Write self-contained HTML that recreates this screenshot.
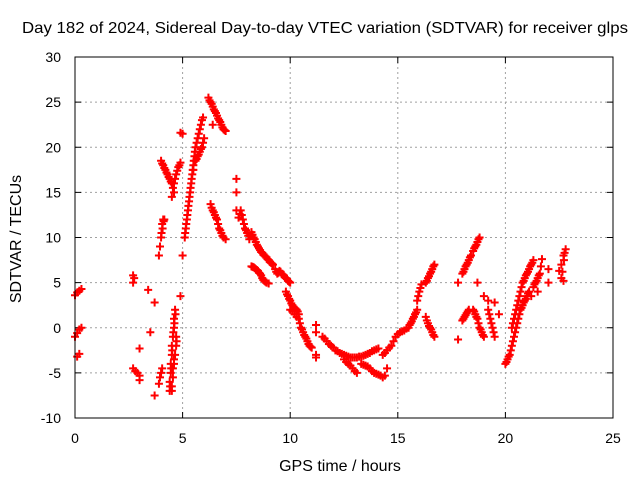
<!DOCTYPE html>
<html><head><meta charset="utf-8"><style>
html,body{margin:0;padding:0;background:#fff;}
svg{display:block;font-family:"Liberation Sans",sans-serif;}
</style></head><body>
<svg id="chart" width="640" height="480" viewBox="0 0 640 480">
<text x="22" y="33" textLength="606" lengthAdjust="spacingAndGlyphs" font-size="16" fill="#000">Day 182 of 2024, Sidereal Day-to-day VTEC variation (SDTVAR) for receiver glps</text>
<g id="grid"></g>
<g id="ticks"></g>
<g id="marks"></g>
<rect x="75" y="57" width="538" height="361" fill="none" stroke="#000" stroke-width="1"/>
<text x="340" y="471" text-anchor="middle" font-size="16">GPS time / hours</text>
<text transform="translate(21,239) rotate(-90)" text-anchor="middle" font-size="16">SDTVAR / TECUs</text>
</svg>
<script>
const xTicks=[0,5,10,15,20,25];
const yTicks=[-10,-5,0,5,10,15,20,25,30];
const hours=[0,0.1,0.2,0.3,0,0.1,0.2,0.3,0.1,0.2,2.7,2.75,2.7,2.7,2.8,2.9,3.0,3.0,3.0,3.4,3.5,3.7,3.7,3.9,3.95,4.0,4.05,
4.4,4.4,4.45,4.45,4.5,4.5,4.55,4.6,4.6,4.65,4.5,4.55,4.6,4.65,4.7,4.7,
3.9,3.95,4.0,4.05,4.1,4.15,
4.0,4.1,4.2,4.3,4.4,4.5,4.6,4.5,4.6,4.7,4.8,4.9,
4.9,5.0,4.9,5.0,
5.1,5.15,5.2,5.25,5.3,5.35,5.4,5.45,5.5,5.55,5.6,5.7,5.8,5.9,5.5,5.6,5.7,5.8,5.9,6.0,
6.2,6.3,6.4,6.5,6.6,6.7,6.8,6.9,7.0,6.4,
6.3,6.4,6.5,6.6,6.7,6.8,6.9,7.0,
7.5,7.5,7.5,7.6,7.7,7.8,7.9,8.0,8.1,
8.2,8.3,8.4,8.5,8.6,8.7,8.8,8.9,9.0,9.1,9.2,
8.2,8.3,8.4,8.5,8.6,8.7,8.8,8.9,9.0,
9.3,9.4,9.5,9.6,9.7,9.8,9.9,10.0,
9.8,9.9,10.0,10.1,10.2,10.3,10.4,
10.0,10.2,10.4,10.5,10.6,10.7,10.8,10.9,11.0,
11.2,11.2,11.2,11.2,
11.5,11.7,11.9,12.1,12.3,12.5,12.7,12.9,13.1,13.3,13.5,13.7,13.9,14.1,
12.5,12.7,12.9,13.1,13.3,13.5,13.7,13.9,14.1,14.3,14.5,
14.3,14.5,14.7,14.9,15.1,15.3,15.5,15.6,15.7,15.8,15.9,15.9,16.0,16.1,
16.3,16.4,16.5,16.6,16.7,16.3,16.4,16.5,16.6,16.7,
17.8,17.8,18.0,18.1,18.2,18.3,18.4,18.0,18.1,18.2,18.3,
18.5,18.6,18.7,18.8,18.5,18.6,18.7,18.8,18.9,19.0,18.7,19.0,19.2,19.2,19.3,19.4,19.5,19.7,19.5,
20.0,20.1,20.2,20.3,20.4,20.5,20.6,20.7,20.8,20.9,21.0,21.1,
20.3,20.4,20.5,20.6,20.7,20.8,20.9,21.0,21.1,21.2,21.3,
21.3,21.4,21.5,21.6,21.7,21.2,21.5,
22.0,22.0,22.5,22.6,22.6,22.7,22.8,22.7,
4.42,4.47,4.52,4.57,4.62,4.67,4.72,4.6,4.55,4.5,
4.02,4.07,4.12,
4.05,4.15,4.25,4.35,4.45,4.55,4.65,4.75,4.85,
5.12,5.17,5.22,5.27,5.32,5.37,5.42,5.47,5.52,5.57,5.65,5.75,5.85,5.95,5.65,5.75,5.85,5.95,
6.25,6.35,6.45,6.55,6.65,6.75,6.85,6.95,
6.35,6.45,6.55,6.65,6.75,6.85,
7.65,7.75,7.85,7.95,8.05,
8.25,8.35,8.45,8.55,8.65,8.75,8.85,8.95,9.05,9.15,
8.25,8.35,8.45,8.55,8.65,8.75,8.85,
9.35,9.45,9.55,9.65,9.75,9.85,9.95,
9.85,9.95,10.05,10.15,10.25,10.35,10.1,10.3,10.45,10.55,10.65,10.75,10.85,10.95,
11.6,11.8,12.0,12.2,12.4,12.6,12.8,13.0,13.2,13.4,13.6,13.8,14.0,
12.6,12.8,13.0,13.4,13.6,13.8,14.0,14.2,14.4,
14.4,14.6,14.8,15.0,15.2,15.4,15.55,15.65,15.75,15.85,15.95,16.05,
16.35,16.45,16.55,16.65,16.35,16.45,16.55,16.65,
18.05,18.15,18.25,18.35,18.05,18.15,18.25,
18.55,18.65,18.75,18.55,18.65,18.75,18.85,18.95,19.25,19.35,19.45,
20.05,20.15,20.25,20.35,20.45,20.55,20.65,20.75,20.85,20.95,21.05,
20.35,20.45,20.55,20.65,20.75,20.85,20.95,21.05,21.15,21.25,
21.35,21.45,21.55,21.65,
22.65,22.75,22.72];
const sdtvar=[3.6,3.9,4.1,4.3,-1,-0.6,-0.2,0,-3.2,-2.9,5,5.5,5.8,-4.5,-4.8,-5,-5.3,-5.8,-2.3,4.2,-0.5,2.8,-7.5,-6.2,-5.5,-5,-4.5,
-7,-6,-5,-4,-3,-2,-1,0,1,2,-6.5,-5.5,-4,-3,-1,-2,
8,9,10,11.5,12,12,
18.5,18,17.5,17,16.5,16,15,14.5,16,17,17.8,18.3,
21.6,21.5,3.5,8,
10,11,12,13,14,15,16,17,18,19,20,21,22,23,17.5,18.5,19,19.5,20,21,
25.5,25,24.5,24,23.5,23,22.5,22,21.8,22.5,
13.7,13,12.5,12,11,10.5,10,9.8,
16.5,15,13,12.2,13,12,11,10.5,9.8,
10.6,10,9.5,9,8.6,8.3,8,7.8,7.5,7.2,7,
6.8,6.7,6.5,6.3,6,5.5,5.2,5,4.9,
6.5,6,6.3,6,5.8,5.5,5.2,5,
4,3.5,3,2.5,2.2,2,1.5,
2,1.5,1,0,-0.5,-1,-1.5,-2,-2.2,
0.3,-0.5,-3,-3.3,
-1,-1.5,-2,-2.5,-2.8,-3,-3.2,-3.3,-3.3,-3.2,-3,-2.8,-2.5,-2.3,
-3.5,-4,-4.5,-5,-4,-4.2,-4.5,-5,-5.2,-5.5,-4.5,
-3,-2.5,-2,-1,-0.5,-0.3,0,0.5,1,1.5,2,3,4,4.8,
5,5.5,6,6.5,7,1.2,0.5,0,-0.5,-1,
5,-1.3,6,6.5,7,7.5,8,0.8,1.2,1.6,2,
8.5,9,9.5,10,2,1.5,1,0,-0.5,-1,5,3.5,3,2,1,0,-1,1.5,2.8,
-4,-3.5,-3,-2,-1,0,1,2,2.5,3,3.5,4,
0,1,2,3,4,5,5.5,6,6.5,7,7.5,
4.5,5,5.5,6,7.6,3.5,4,
5,6.5,6.3,5.5,7,8,8.7,5.2,
-6.5,-4.5,-2.5,-0.5,0.5,1.5,-1.5,-3.5,-4.5,-7,
10.5,11,11.8,
18.2,17.7,17.2,16.7,16.2,15.5,16.5,17.4,18,
10.5,11.5,12.5,13.5,14.5,15.5,16.5,17.5,18.5,19.5,20.5,21.5,22.5,23.3,18.7,19.2,19.8,20.5,
25.2,24.8,24.2,23.8,23.2,22.8,22.2,21.9,
13.3,12.8,12.2,11.5,10.8,10.2,
12.6,12.5,11.5,10.8,10.2,
10.3,9.8,9.2,8.8,8.4,8.1,7.9,7.6,7.3,7.1,
6.75,6.6,6.4,6.1,5.8,5.3,5.1,
6.2,6.1,6.2,5.9,5.6,5.4,5.1,
3.7,3.2,2.7,2.3,2.1,1.8,1.8,1.2,0.5,-0.2,-0.8,-1.2,-1.8,-2.1,
-1.2,-1.8,-2.2,-2.6,-2.9,-3.1,-3.3,-3.3,-3.2,-3.1,-2.9,-2.6,-2.4,
-3.8,-4.2,-4.8,-4.1,-4.3,-4.8,-5.1,-5.3,-5.3,
-2.8,-2.2,-1.5,-0.7,-0.4,-0.1,0.3,0.7,1.2,1.7,3.5,4.4,
5.2,5.7,6.2,6.8,0.8,0.2,-0.2,-0.8,
6.2,6.8,7.2,7.8,1,1.4,1.8,
8.8,9.2,9.8,1.8,1.2,0.5,-0.2,-0.8,1.5,0.5,-0.5,
-3.8,-3.2,-2.5,-1.5,-0.5,0.5,1.5,2.2,2.8,3.2,3.8,
0.5,1.5,2.5,3.5,4.5,5.2,5.8,6.2,6.8,7.2,
4.8,5.2,5.8,6.8,
6.2,8.3,7.5];
const NS="http://www.w3.org/2000/svg";
const X0=75,X1=613,Y0=418,Y1=57;
function xs(v){return X0+(v-0)/25*(X1-X0);}
function ys(v){return Y0-(v+10)/40*(Y0-Y1);}
const grid=document.getElementById('grid'),ticks=document.getElementById('ticks'),marks=document.getElementById('marks');
function mk(t,a,p){const e=document.createElementNS(NS,t);for(const k in a)e.setAttribute(k,a[k]);p.appendChild(e);return e;}
xTicks.forEach(v=>{const x=xs(v);
 if(v>0&&v<25){const l=mk('line',{x1:x,x2:x,y1:Y1,y2:Y0,stroke:'#a0a0a0','stroke-dasharray':'2,3'},grid);
 
 }
 mk('line',{x1:x,x2:x,y1:Y0,y2:Y0-6,stroke:'#000'},ticks);
 mk('line',{x1:x,x2:x,y1:Y1,y2:Y1+6,stroke:'#000'},ticks);
 const t=mk('text',{x:x,y:443,'text-anchor':'middle','font-size':'14'},ticks);t.textContent=v;
 
 
});
yTicks.forEach(v=>{const y=ys(v);
 if(v>-10&&v<30){const l=mk('line',{x1:X0,x2:X1,y1:y,y2:y,stroke:'#a0a0a0','stroke-dasharray':'2,3'},grid);
 
 }
 mk('line',{x1:X0,x2:X0+6,y1:y,y2:y,stroke:'#000'},ticks);
 mk('line',{x1:X1,x2:X1-6,y1:y,y2:y,stroke:'#000'},ticks);
 const t=mk('text',{x:61,y:y+5,'text-anchor':'end','font-size':'14'},ticks);t.textContent=v;
 
 
});
hours.forEach((h,i)=>{const x=xs(h),y=ys(sdtvar[i]);
 const p=mk('path',{d:`M${x-4} ${y}H${x+4}M${x} ${y-4}V${y+4}`,stroke:'#ff0000','stroke-width':'2',fill:'none'},marks);
 
 
});
</script>
</body></html>
